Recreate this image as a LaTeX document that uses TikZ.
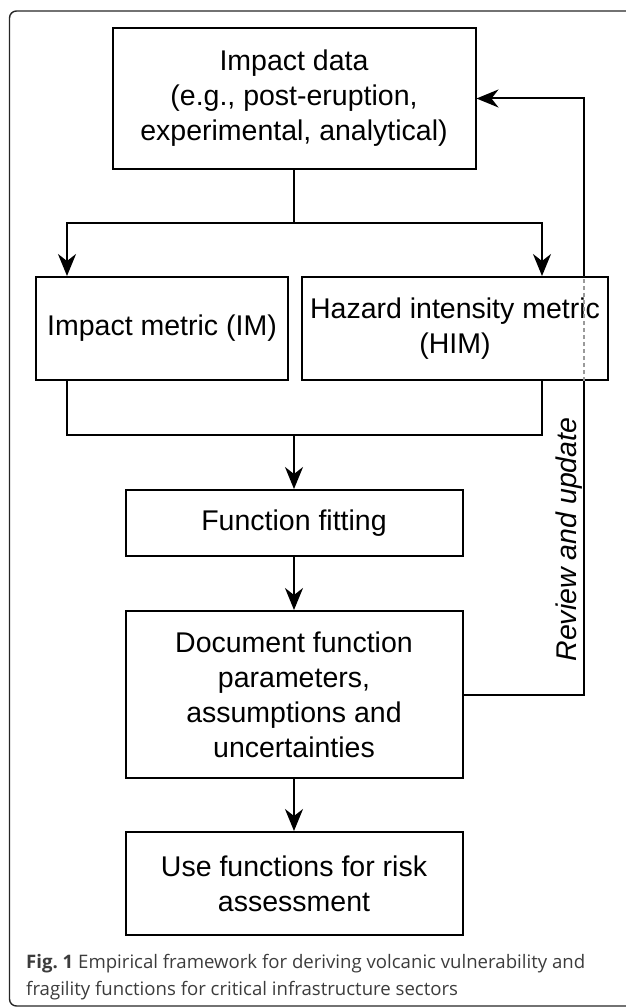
\documentclass[tikz,border=0pt]{standalone}
\usepackage{fontspec}
\setmainfont{Liberation Sans}
\newfontfamily\capfont{Open Sans}
\usetikzlibrary{arrows.meta,backgrounds,calc}
\definecolor{capgray}{HTML}{3C3C3C}
\definecolor{dashgray}{HTML}{9A9A9A}
\begin{document}
\begin{tikzpicture}[x=1pt,y=-1pt,
  box/.style={draw=black,line width=2pt,fill=white,inner sep=0pt,align=center,
    font=\fontsize{28.5pt}{35pt}\selectfont},
  conn/.style={line width=2pt,black},
  arr/.style={conn,-{Stealth[length=22pt,width=18pt,inset=7pt]}},
  captext/.style={anchor=base west,inner sep=0pt,text=capgray,
    font=\capfont\fontsize{18.6pt}{27pt}\selectfont}]
\useasboundingbox (0,0) rectangle (625,1008);
% outer frame
\draw[line width=1.4pt,black!85,rounded corners=7pt] (626,11) -- (9.5,11) -- (9.5,1006) -- (626,1006);

\node[box,minimum width=363pt,minimum height=141pt] (top) at (294,98.5)
  {Impact data\\(e.g., post-eruption,\\experimental, analytical)};
\node[box,minimum width=252pt,minimum height=103pt] (im) at (162,328.5)
  {Impact metric (IM)};
\node[box,minimum width=306pt,minimum height=103pt] (him) at (455,328.5)
  {Hazard intensity metric\\(HIM)};
\node[box,minimum width=337pt,minimum height=66pt] (ff) at (294,523)
  {Function fitting};
\node[box,minimum width=337pt,minimum height=167pt] (doc) at (294,694.5)
  {Document function\\parameters,\\assumptions and\\uncertainties};
\node[box,minimum width=337pt,minimum height=103pt] (use) at (294,883.5)
  {Use functions for risk\\assessment};

\coordinate (j1) at (294,223);
\coordinate (j2) at (294,435);
\coordinate (fb) at (584,98.5);

% split from impact data
\draw[conn] (top.south) -- (j1);
\draw[arr] (j1) -| ([xshift=32pt]im.north west);
\draw[arr] (j1) -| ([xshift=-67pt]him.north east);
% merge into function fitting
\draw[conn] ([xshift=32pt]im.south west) |- (j2);
\draw[conn] ([xshift=-67pt]him.south east) |- (j2);
\draw[arr] (j2) -- (ff.north);
\draw[arr] (ff.south) -- (doc.north);
\draw[arr] (doc.south) -- (use.north);
% feedback loop
\begin{pgfonlayer}{background}
\draw[arr] (doc.east) -| (fb) -- (top.east);
\end{pgfonlayer}
\draw[line width=1.6pt,dashgray,dash pattern=on 4pt off 3pt] (fb |- him.south) -- (fb |- him.north);
\node[rotate=90,anchor=base,inner sep=0pt,font=\itshape\fontsize{28.5pt}{35pt}\selectfont] (rev) at (576,539.5) {Review and update};

% caption
\node[captext] (cap1) at (26,968) {\textbf{Fig.\ 1} Empirical framework for deriving volcanic vulnerability and};
\node[captext] (cap2) at (26,995) {fragility functions for critical infrastructure sectors};
\end{tikzpicture}
\end{document}
